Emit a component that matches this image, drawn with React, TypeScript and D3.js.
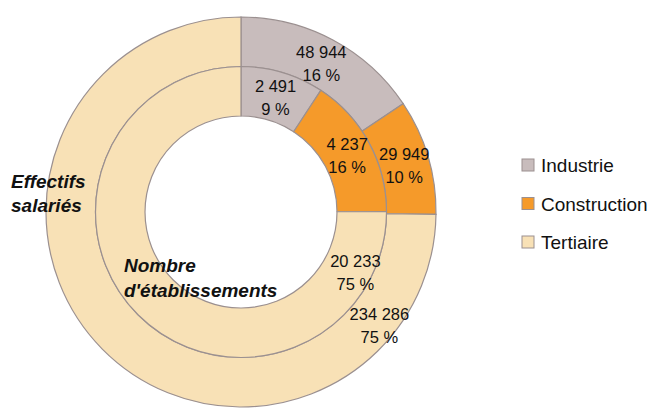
import React from "react";
import * as d3 from "d3";

const categories = ["Industrie", "Construction", "Tertiaire"];
const effectifs = [48944, 29949, 234286];
const effectifsPct = ["16 %", "10 %", "75 %"];
const etablissements = [2491, 4237, 20233];
const etablissementsPct = ["9 %", "16 %", "75 %"];
const colors = ["#c8bcbc", "#f59a2a", "#f8e1b6"];

const W = 652, H = 408;
const cx = 241, cy = 212;
const rOuter = 195, rMid = 145.5, rInner = 96;

const fmt = (v: number) => d3.format(",")(v).replace(/,/g, " ");

export default function App() {
  const pie = d3.pie<number>().sort(null).value((d) => d).startAngle(0).endAngle(2 * Math.PI);
  const outerArcs = pie(effectifs);
  const innerArcs = pie(etablissements);
  const arcOuter = d3.arc<d3.PieArcDatum<number>>().innerRadius(rMid).outerRadius(rOuter);
  const arcInner = d3.arc<d3.PieArcDatum<number>>().innerRadius(rInner).outerRadius(rMid);

  // label positions: centroid except Tertiaire which Excel pushes near start
  const labelPos = (a: d3.PieArcDatum<number>, r0: number, r1: number, i: number, extra: number) => {
    let ang = (a.startAngle + a.endAngle) / 2;
    let r = (r0 + r1) / 2;
    if (i === 2) { ang = a.startAngle + extra; r = r + 8; }
    return [cx + r * Math.sin(ang), cy - r * Math.cos(ang)];
  };

  const stroke = "#9b9090";
  return (
    <svg width={W} height={H} style={{ position: "absolute", left: 0, top: 0, fontFamily: "'Liberation Sans', Arial, sans-serif" }}>
      <rect width={W} height={H} fill="#fff" />
      <g transform={`translate(${cx},${cy})`}>
        {outerArcs.map((a, i) => (
          <path key={"o" + i} d={arcOuter(a) || ""} fill={colors[i]} stroke={stroke} strokeWidth={1.2} />
        ))}
        {innerArcs.map((a, i) => (
          <path key={"i" + i} d={arcInner(a) || ""} fill={colors[i]} stroke={stroke} strokeWidth={1.2} />
        ))}
      </g>
      {outerArcs.map((a, i) => {
        const [x, y] = labelPos(a, rMid, rOuter, i, 0.67);
        return (
          <text key={"lo" + i} x={x} y={y} textAnchor="middle" fontSize={16.5} fill="#111">
            <tspan x={x} dy={-4}>{fmt(effectifs[i])}</tspan>
            <tspan x={x} dy={23}>{effectifsPct[i]}</tspan>
          </text>
        );
      })}
      {innerArcs.map((a, i) => {
        const [x, y] = labelPos(a, rInner, rMid, i, 0.48);
        return (
          <text key={"li" + i} x={x} y={y} textAnchor="middle" fontSize={16.5} fill="#111">
            <tspan x={x} dy={-4}>{fmt(etablissements[i])}</tspan>
            <tspan x={x} dy={23}>{etablissementsPct[i]}</tspan>
          </text>
        );
      })}
      <text x={11} y={188} fontSize={19} fontWeight="bold" fontStyle="italic" fill="#111">
        <tspan x={11} y={188}>Effectifs</tspan>
        <tspan x={11} y={212}>salariés</tspan>
      </text>
      <text x={124} y={272} fontSize={19} fontWeight="bold" fontStyle="italic" fill="#111">
        <tspan x={124} y={272}>Nombre</tspan>
        <tspan x={124} y={297}>d'établissements</tspan>
      </text>
      {categories.map((c, i) => (
        <g key={c} transform={`translate(522,${159 + i * 38.5})`}>
          <rect width={12} height={12} fill={colors[i]} stroke={stroke} strokeWidth={1} />
          <text x={19} y={13} fontSize={19} fill="#111">{c}</text>
        </g>
      ))}
    </svg>
  );
}
